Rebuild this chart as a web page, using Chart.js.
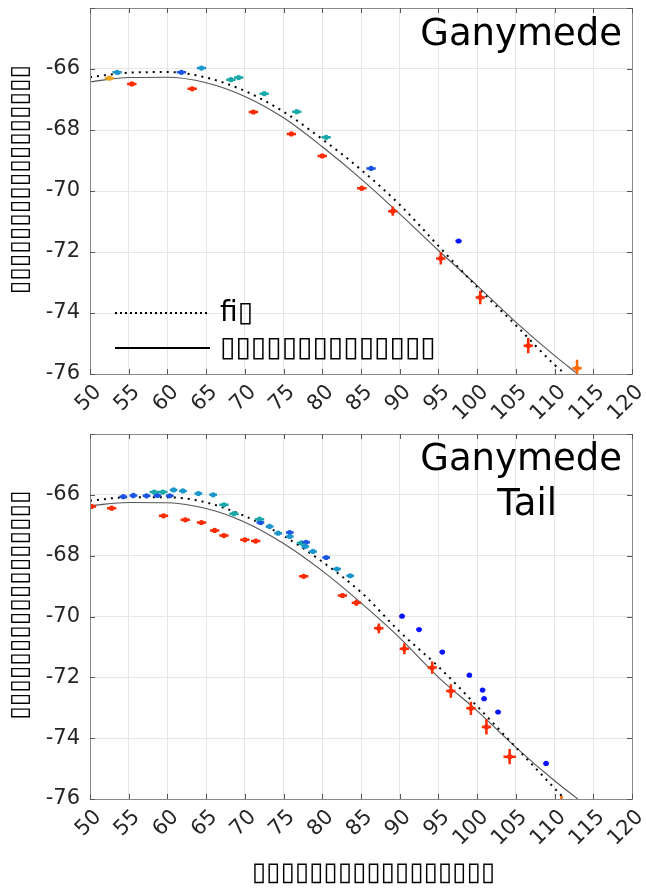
<!DOCTYPE html>
<html>
<head>
<meta charset="utf-8">
<script src="https://cdn.jsdelivr.net/npm/chart.js@4.4.1/dist/chart.umd.min.js"></script>
<style>
	html, body { margin: 0; padding: 0; background: #fff; }
	.panel { position: absolute; left: 0; width: 646px; }
	#panel-top { top: 0; height: 420px; }
	#panel-bottom { top: 420px; height: 472px; }
</style>
</head>
<body>
<div class="panel" id="panel-top"><canvas id="chart-top"></canvas></div>
<div class="panel" id="panel-bottom"><canvas id="chart-bottom"></canvas></div>
<script>
// axis ticks
const xTickValues = [50, 55, 60, 65, 70, 75, 80, 85, 90, 95, 100, 105, 110, 115, 120];
const xTickLabels = ["50", "55", "60", "65", "70", "75", "80", "85", "90", "95", "100", "105", "110", "115", "120"];
const yTickValues = [-76, -74, -72, -70, -68, -66, -64];
const yTickLabels = ["-76", "-74", "-72", "-70", "-68", "-66", ""];

// text (glyphs that did not render in the original show as boxes)
const yTitle = "▯▯▯▯▯▯▯▯▯▯▯▯▯▯▯▯▯";
const xTitle = "▯▯▯▯▯▯▯▯▯▯▯▯▯▯▯▯▯";
const fitLabel = "fi▯";
const modelLabel = "▯▯▯▯▯▯▯▯▯▯▯▯▯▯";
const topTitle = ["Ganymede"];
const bottomTitle = ["Ganymede", "Tail"];

// ---- top panel: Ganymede ----
const topRedX = [55.4, 63.2, 71.1, 76.0, 80.0, 85.1, 89.1, 95.3, 100.4, 106.6];
const topRedY = [-66.49, -66.65, -67.41, -68.13, -68.85, -69.91, -70.66, -72.21, -73.49, -75.07];
const topRedErrY = [0.04, 0.04, 0.04, 0.04, 0.05, 0.08, 0.15, 0.2, 0.22, 0.25];
const topGoldX = [52.5];
const topGoldY = [-66.30];
const topOrangeX = [112.9];
const topOrangeY = [-75.81];
const topOrangeErrY = [0.28];
const topTealX = [68.2, 69.2, 72.5, 76.7, 80.5];
const topTealY = [-66.35, -66.28, -66.81, -67.40, -68.24];
const topCyanX = [53.5, 64.4];
const topCyanY = [-66.11, -65.97];
const topBlueX = [61.8, 86.3];
const topBlueY = [-66.11, -69.26];
const topDeepBlueX = [97.6];
const topDeepBlueY = [-71.64];

const topFitX = [50, 55, 60, 65, 70, 75, 80, 85, 90, 95, 100, 105, 110, 111.4];
const topFitY = [-66.27, -66.12, -66.1, -66.28, -66.72, -67.4, -68.3, -69.3, -70.45, -71.8, -73.15, -74.4, -75.7, -76.0];
const topModelX = [50, 55, 60, 65, 70, 75, 80, 85, 90, 95, 100, 105, 110, 113];
const topModelY = [-66.42, -66.28, -66.27, -66.45, -66.9, -67.6, -68.55, -69.6, -70.75, -71.95, -73.1, -74.3, -75.4, -76.0];

// ---- bottom panel: Ganymede Tail ----
const botRedX = [50.2, 52.8, 59.5, 62.3, 64.4, 66.1, 67.3, 70.0, 71.4, 77.6, 82.6, 84.4, 87.3, 90.6, 94.2, 96.6, 99.2, 101.2, 104.2];
const botRedY = [-66.38, -66.44, -66.69, -66.82, -66.91, -67.17, -67.34, -67.48, -67.52, -68.68, -69.31, -69.55, -70.39, -71.06, -71.68, -72.45, -73.02, -73.63, -74.61];
const botRedErrX = [0.6, 0.6, 0.6, 0.6, 0.6, 0.6, 0.6, 0.6, 0.6, 0.6, 0.6, 0.6, 0.6, 0.6, 0.6, 0.6, 0.6, 0.6, 0.8];
const botRedErrY = [0.04, 0.04, 0.04, 0.04, 0.04, 0.04, 0.04, 0.04, 0.04, 0.05, 0.06, 0.1, 0.16, 0.18, 0.2, 0.22, 0.22, 0.25, 0.25];
const botOrangeX = [110.9];
const botOrangeY = [-76.1];
const botTealX = [58.3, 59.4, 67.3, 68.6, 71.9, 77.3];
const botTealY = [-65.91, -65.91, -66.33, -66.62, -66.80, -67.58];
const botCyanX = [60.8, 62.0, 64.0, 65.9, 73.2, 74.3, 75.8, 77.8, 78.8, 81.9, 83.6];
const botCyanY = [-65.84, -65.87, -65.96, -66.0, -67.04, -67.26, -67.37, -67.7, -67.86, -68.44, -68.66];
const botBlueX = [54.3, 55.6, 57.3, 58.7, 60.3, 72.0, 75.8, 77.9, 80.5];
const botBlueY = [-66.06, -66.02, -66.03, -66.02, -66.03, -66.91, -67.24, -67.56, -68.06];
const botDeepBlueX = [90.3, 92.5, 95.5, 99.0, 100.7, 100.9, 102.7, 108.9];
const botDeepBlueY = [-69.99, -70.43, -71.17, -71.93, -72.42, -72.70, -73.14, -74.83];

const botFitX = [50, 55, 60, 65, 70, 75, 80, 85, 90, 95, 100, 105, 110, 111.3];
const botFitY = [-66.19, -66.08, -66.08, -66.25, -66.7, -67.35, -68.2, -69.2, -70.5, -71.65, -72.95, -74.3, -75.65, -76.0];
const botModelX = [50, 55, 60, 65, 70, 75, 80, 85, 90, 95, 100, 105, 110, 113];
const botModelY = [-66.36, -66.25, -66.26, -66.45, -66.9, -67.6, -68.5, -69.55, -70.7, -72.0, -73.1, -74.3, -75.4, -76.0];

const RED = "#ff2a00";
const GOLD = "#eda51f";
const ORANGE = "#ff6a00";
const TEAL = "#1aa8a8";
const CYAN = "#1a96cc";
const BLUE = "#1a55e6";
const DEEP_BLUE = "#0a14ff";

const FONT = "DejaVu Sans";

function pointSet(xs, ys, errX, errY, color) {
	return {
		data: xs.map((v, i) => ({ x: v, y: ys[i] })),
		errX: errX,
		errY: errY,
		pointRadius: 2.6,
		pointHoverRadius: 2.6,
		pointBackgroundColor: color,
		pointBorderWidth: 0,
		showLine: false,
		order: 1,
	};
}

function curve(xs, ys, label, color, width, dash) {
	return {
		label: label,
		data: xs.map((v, i) => ({ x: v, y: ys[i] })),
		borderColor: color,
		borderWidth: width,
		borderDash: dash,
		pointRadius: 0,
		showLine: true,
		cubicInterpolationMode: "monotone",
		fill: false,
		order: 2,
	};
}

const errorBars = {
	id: "errorBars",
	afterDatasetsDraw(chart) {
		const { ctx, chartArea: a, scales: { x, y } } = chart;
		ctx.save();
		ctx.beginPath();
		ctx.rect(a.left, a.top, a.width, a.height);
		ctx.clip();
		chart.data.datasets.forEach((ds) => {
			if (ds.errX === undefined) return;
			ctx.strokeStyle = ds.pointBackgroundColor;
			ctx.lineWidth = 2.5;
			ds.data.forEach((p, j) => {
				const ex = Array.isArray(ds.errX) ? ds.errX[j] : ds.errX;
				const ey = Array.isArray(ds.errY) ? ds.errY[j] : ds.errY;
				const px = x.getPixelForValue(p.x);
				const py = y.getPixelForValue(p.y);
				ctx.beginPath();
				ctx.moveTo(x.getPixelForValue(p.x - ex), py);
				ctx.lineTo(x.getPixelForValue(p.x + ex), py);
				ctx.moveTo(px, y.getPixelForValue(p.y - ey));
				ctx.lineTo(px, y.getPixelForValue(p.y + ey));
				ctx.stroke();
			});
		});
		ctx.restore();
	},
};

// matlab style box with inner tick marks
const axesBox = {
	id: "axesBox",
	afterDraw(chart) {
		const { ctx, chartArea: a, scales: { x, y } } = chart;
		ctx.save();
		ctx.strokeStyle = "#8a8a8a";
		ctx.lineWidth = 1;
		ctx.strokeRect(a.left + 0.5, a.top + 0.5, a.width, a.height);
		ctx.strokeStyle = "#555";
		ctx.beginPath();
		x.ticks.forEach((t) => {
			const px = Math.round(x.getPixelForValue(t.value)) + 0.5;
			ctx.moveTo(px, a.bottom);
			ctx.lineTo(px, a.bottom - 5);
			ctx.moveTo(px, a.top);
			ctx.lineTo(px, a.top + 5);
		});
		y.ticks.forEach((t) => {
			const py = Math.round(y.getPixelForValue(t.value)) + 0.5;
			ctx.moveTo(a.left, py);
			ctx.lineTo(a.left + 5, py);
			ctx.moveTo(a.right, py);
			ctx.lineTo(a.right - 5, py);
		});
		ctx.stroke();
		ctx.restore();
	},
};

function panelTitle(lines, centered) {
	return {
		id: "panelTitle",
		afterDraw(chart) {
			const { ctx, chartArea: a } = chart;
			ctx.save();
			ctx.font = "37px '" + FONT + "'";
			ctx.fillStyle = "#000";
			ctx.textBaseline = "alphabetic";
			const widest = Math.max(...lines.map((l) => ctx.measureText(l).width));
			lines.forEach((line, i) => {
				if (centered) {
					ctx.textAlign = "center";
					ctx.fillText(line, a.right - 10 - widest / 2 + i * 6, a.top + 36 + i * 45);
				} else {
					ctx.textAlign = "right";
					ctx.fillText(line, a.right - 10, a.top + 37 + i * 45);
				}
			});
			ctx.restore();
		},
	};
}

// legend sits inside the plot, lower left
const innerLegend = {
	id: "innerLegend",
	afterDraw(chart) {
		const { ctx, chartArea: a } = chart;
		const items = chart.data.datasets.filter((ds) => ds.label);
		ctx.save();
		ctx.font = "28px '" + FONT + "'";
		ctx.textBaseline = "middle";
		ctx.textAlign = "left";
		items.forEach((ds, i) => {
			const yy = a.top + 305 + i * 35;
			ctx.beginPath();
			ctx.setLineDash(ds.borderDash ? [2, 3] : []);
			ctx.strokeStyle = "#000";
			ctx.lineWidth = 2;
			ctx.moveTo(a.left + 25, yy);
			ctx.lineTo(a.left + 120, yy);
			ctx.stroke();
			ctx.setLineDash([]);
			ctx.fillStyle = "#000";
			ctx.fillText(ds.label, a.left + 130, yy + 1);
		});
		ctx.restore();
	},
};

function scales(xHeight, showXTitle) {
	const tickFont = { family: FONT, size: 21 };
	return {
		x: {
			type: "linear",
			min: 50,
			max: 120,
			afterBuildTicks: (s) => { s.ticks = xTickValues.map((v) => ({ value: v })); },
			afterFit: (s) => { s.height = xHeight; s.paddingLeft = 0; s.paddingRight = 0; },
			ticks: {
				autoSkip: false,
				minRotation: 45,
				maxRotation: 45,
				padding: 6,
				labelOffset: 8,
				color: "#262626",
				font: tickFont,
				callback: (v, i) => xTickLabels[i],
			},
			grid: { color: "#e6e6e6", drawTicks: false },
			border: { display: false },
			title: {
				display: showXTitle,
				text: "   " + xTitle,
				color: "#000",
				font: { family: FONT, size: 26 },
				padding: { top: 0, bottom: 3 },
			},
		},
		y: {
			type: "linear",
			min: -76,
			max: -64,
			afterBuildTicks: (s) => { s.ticks = yTickValues.map((v) => ({ value: v })); },
			afterFit: (s) => { s.width = 90; s.paddingTop = 0; s.paddingBottom = 0; },
			ticks: {
				padding: 10,
				color: "#262626",
				font: tickFont,
				callback: (v, i) => yTickLabels[i],
			},
			grid: { color: "#e6e6e6", drawTicks: false },
			border: { display: false },
			title: {
				display: true,
				text: "   " + yTitle,
				color: "#000",
				font: { family: FONT, size: 24.5 },
				padding: { top: 6, bottom: 0 },
			},
		},
	};
}

const baseOptions = {
	responsive: true,
	maintainAspectRatio: false,
	animation: false,
	plugins: {
		legend: { display: false },
		tooltip: { enabled: false },
	},
};

new Chart(document.getElementById("chart-top"), {
	type: "scatter",
	data: {
		datasets: [
			pointSet(topRedX, topRedY, 0.6, topRedErrY, RED),
			pointSet(topGoldX, topGoldY, 0.6, 0.04, GOLD),
			pointSet(topOrangeX, topOrangeY, 0.6, topOrangeErrY, ORANGE),
			pointSet(topTealX, topTealY, 0.6, 0.04, TEAL),
			pointSet(topCyanX, topCyanY, 0.6, 0.04, CYAN),
			pointSet(topBlueX, topBlueY, 0.6, 0.05, BLUE),
			pointSet(topDeepBlueX, topDeepBlueY, 0.4, 0.05, DEEP_BLUE),
			curve(topFitX, topFitY, fitLabel, "#000", 2, [2, 5]),
			curve(topModelX, topModelY, modelLabel, "#555", 1.1, undefined),
		],
	},
	options: {
		...baseOptions,
		layout: { padding: { top: 8, right: 14, left: 0, bottom: 0 } },
		scales: scales(46, false),
	},
	plugins: [errorBars, axesBox, panelTitle(topTitle, false), innerLegend],
});

new Chart(document.getElementById("chart-bottom"), {
	type: "scatter",
	data: {
		datasets: [
			pointSet(botRedX, botRedY, botRedErrX, botRedErrY, RED),
			pointSet(botOrangeX, botOrangeY, 0.5, 0.2, ORANGE),
			pointSet(botTealX, botTealY, 0.6, 0.04, TEAL),
			pointSet(botCyanX, botCyanY, 0.5, 0.04, CYAN),
			pointSet(botBlueX, botBlueY, 0.5, 0.04, BLUE),
			pointSet(botDeepBlueX, botDeepBlueY, 0.35, 0.05, DEEP_BLUE),
			curve(botFitX, botFitY, null, "#000", 2, [2, 5]),
			curve(botModelX, botModelY, null, "#555", 1.1, undefined),
		],
	},
	options: {
		...baseOptions,
		layout: { padding: { top: 14, right: 14, left: 0, bottom: 0 } },
		scales: scales(93, true),
	},
	plugins: [errorBars, axesBox, panelTitle(bottomTitle, true)],
});
</script>
</body>
</html>
